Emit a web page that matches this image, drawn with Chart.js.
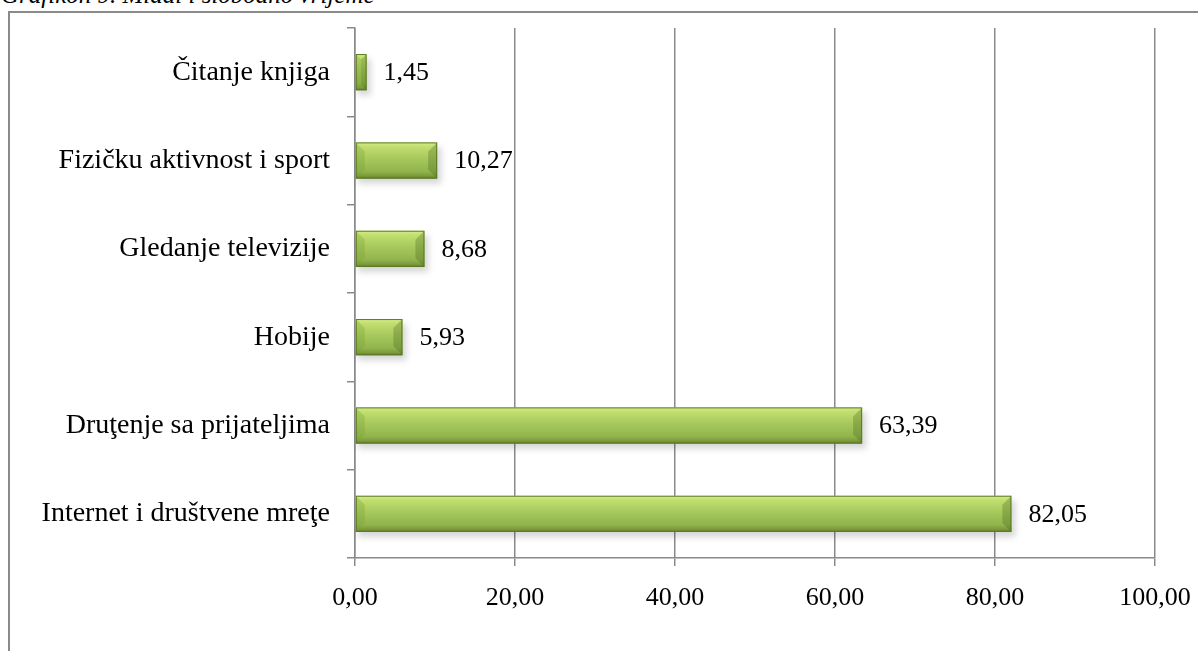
<!DOCTYPE html>
<html>
<head>
<meta charset="utf-8">
<script src="https://cdn.jsdelivr.net/npm/chart.js@4"></script>
<style>
  html, body { margin: 0; padding: 0; background: #fff; width: 1198px; height: 651px; overflow: hidden; }
  #wrap { position: relative; width: 1198px; height: 651px; }
  #frame { position: absolute; left: 8px; top: 11px; width: 1300px; height: 800px; border: 2px solid #8a8a8a; box-sizing: border-box; }
  #title { position: absolute; left: 1px; top: -20px; font-family: "Liberation Serif", "Times New Roman", serif; font-style: italic; font-size: 25px; color: #000; white-space: nowrap; line-height: 30px; }
  canvas { position: absolute; left: 0; top: 0; }
</style>
</head>
<body>
<div id="wrap">
  <div id="title">Grafikon 9. Mladi i slobodno vrijeme</div>
  <div id="frame"></div>
  <canvas id="c" width="1198" height="651"></canvas>
</div>
<script>
const categories = [
  "Čitanje knjiga",
  "Fizičku aktivnost i sport",
  "Gledanje televizije",
  "Hobije",
  "Druţenje sa prijateljima",
  "Internet i društvene mreţe"
];
const values = [1.45, 10.27, 8.68, 5.93, 63.39, 82.05];
const xTicks = [0, 20, 40, 60, 80, 100];

const fmt = v => v.toFixed(2).replace('.', ',');
const FONT = "'Liberation Serif', 'Times New Roman', serif";

const bevelPlugin = {
  id: 'bevel',
  beforeDatasetsDraw(chart) {
    const ctx = chart.ctx;
    const meta = chart.getDatasetMeta(0);
    ctx.save();
    meta.data.forEach(bar => {
      const top = bar.y - bar.height / 2;
      const left = Math.min(bar.base, bar.x);
      const w = Math.abs(bar.x - bar.base);
      ctx.fillStyle = 'rgba(0,0,0,0.16)';
      ctx.filter = 'blur(3px)';
      ctx.fillRect(left + 2, top + 5, w + 2, bar.height);
    });
    ctx.restore();
  },
  afterDatasetsDraw(chart) {
    const ctx = chart.ctx;
    const meta = chart.getDatasetMeta(0);
    ctx.save();
    meta.data.forEach((bar, i) => {
      const h = bar.height;
      const top = bar.y - h / 2;
      const left = Math.min(bar.base, bar.x);
      const right = Math.max(bar.base, bar.x);
      const w = right - left;
      const b = Math.min(9, w / 2, h / 3);
      const g = ctx.createLinearGradient(0, top, 0, top + h);
      g.addColorStop(0, '#d4ee88');
      g.addColorStop(0.12, '#c2de70');
      g.addColorStop(0.45, '#a6c85c');
      g.addColorStop(0.8, '#92b44d');
      g.addColorStop(0.92, '#7d9c3c');
      g.addColorStop(1, '#5f7d2a');
      ctx.fillStyle = g;
      ctx.fillRect(left, top, w, h);
      ctx.fillStyle = 'rgba(120,160,50,0.3)';
      ctx.beginPath();
      ctx.moveTo(left, top); ctx.lineTo(left + b, top + b);
      ctx.lineTo(left + b, top + h - b); ctx.lineTo(left, top + h); ctx.closePath();
      ctx.fill();
      ctx.fillStyle = 'rgba(70,100,25,0.3)';
      ctx.beginPath();
      ctx.moveTo(right, top); ctx.lineTo(right - b, top + b);
      ctx.lineTo(right - b, top + h - b); ctx.lineTo(right, top + h); ctx.closePath();
      ctx.fill();
      ctx.strokeStyle = '#5b7a26';
      ctx.lineWidth = 1;
      ctx.strokeRect(left + 0.5, top + 0.5, w - 1, h - 1);
      ctx.fillStyle = '#000';
      ctx.font = '26px ' + FONT;
      ctx.textAlign = 'left';
      ctx.textBaseline = 'middle';
      ctx.fillText(fmt(values[i]), right + 17, bar.y + 1);
    });
    ctx.restore();
  }
};

new Chart(document.getElementById('c'), {
  type: 'bar',
  data: {
    labels: categories,
    datasets: [{
      data: values,
      backgroundColor: 'rgba(0,0,0,0)',
      borderWidth: 0,
      barPercentage: 0.82,
      categoryPercentage: 0.5
    }]
  },
  options: {
    indexAxis: 'y',
    responsive: false,
    animation: false,
    devicePixelRatio: 1,
    layout: { padding: { left: 0, right: 43, top: 28, bottom: 0 } },
    plugins: { legend: { display: false }, tooltip: { enabled: false } },
    scales: {
      x: {
        min: 0, max: 100,
        afterBuildTicks: s => { s.ticks = xTicks.map(v => ({ value: v })); },
        afterFit: s => { s.height = 93; s.paddingLeft = 0; s.paddingRight = 0; },
        ticks: {
          color: '#000',
          font: { family: FONT, size: 26 },
          padding: 17,
          callback: v => fmt(v)
        },
        grid: { color: '#8a8a8a', lineWidth: 1.5, tickLength: 8, drawTicks: true },
        border: { color: '#8a8a8a', width: 1.5 }
      },
      y: {
        afterFit: s => { s.width = 355; s.paddingTop = 0; s.paddingBottom = 0; },
        ticks: {
          color: '#000',
          font: { family: FONT, size: 28 },
          padding: 17
        },
        grid: { drawOnChartArea: false, color: '#8a8a8a', lineWidth: 1.5, tickLength: 8, offset: true },
        border: { color: '#8a8a8a', width: 1.5 }
      }
    }
  },
  plugins: [bevelPlugin]
});
</script>
</body>
</html>
